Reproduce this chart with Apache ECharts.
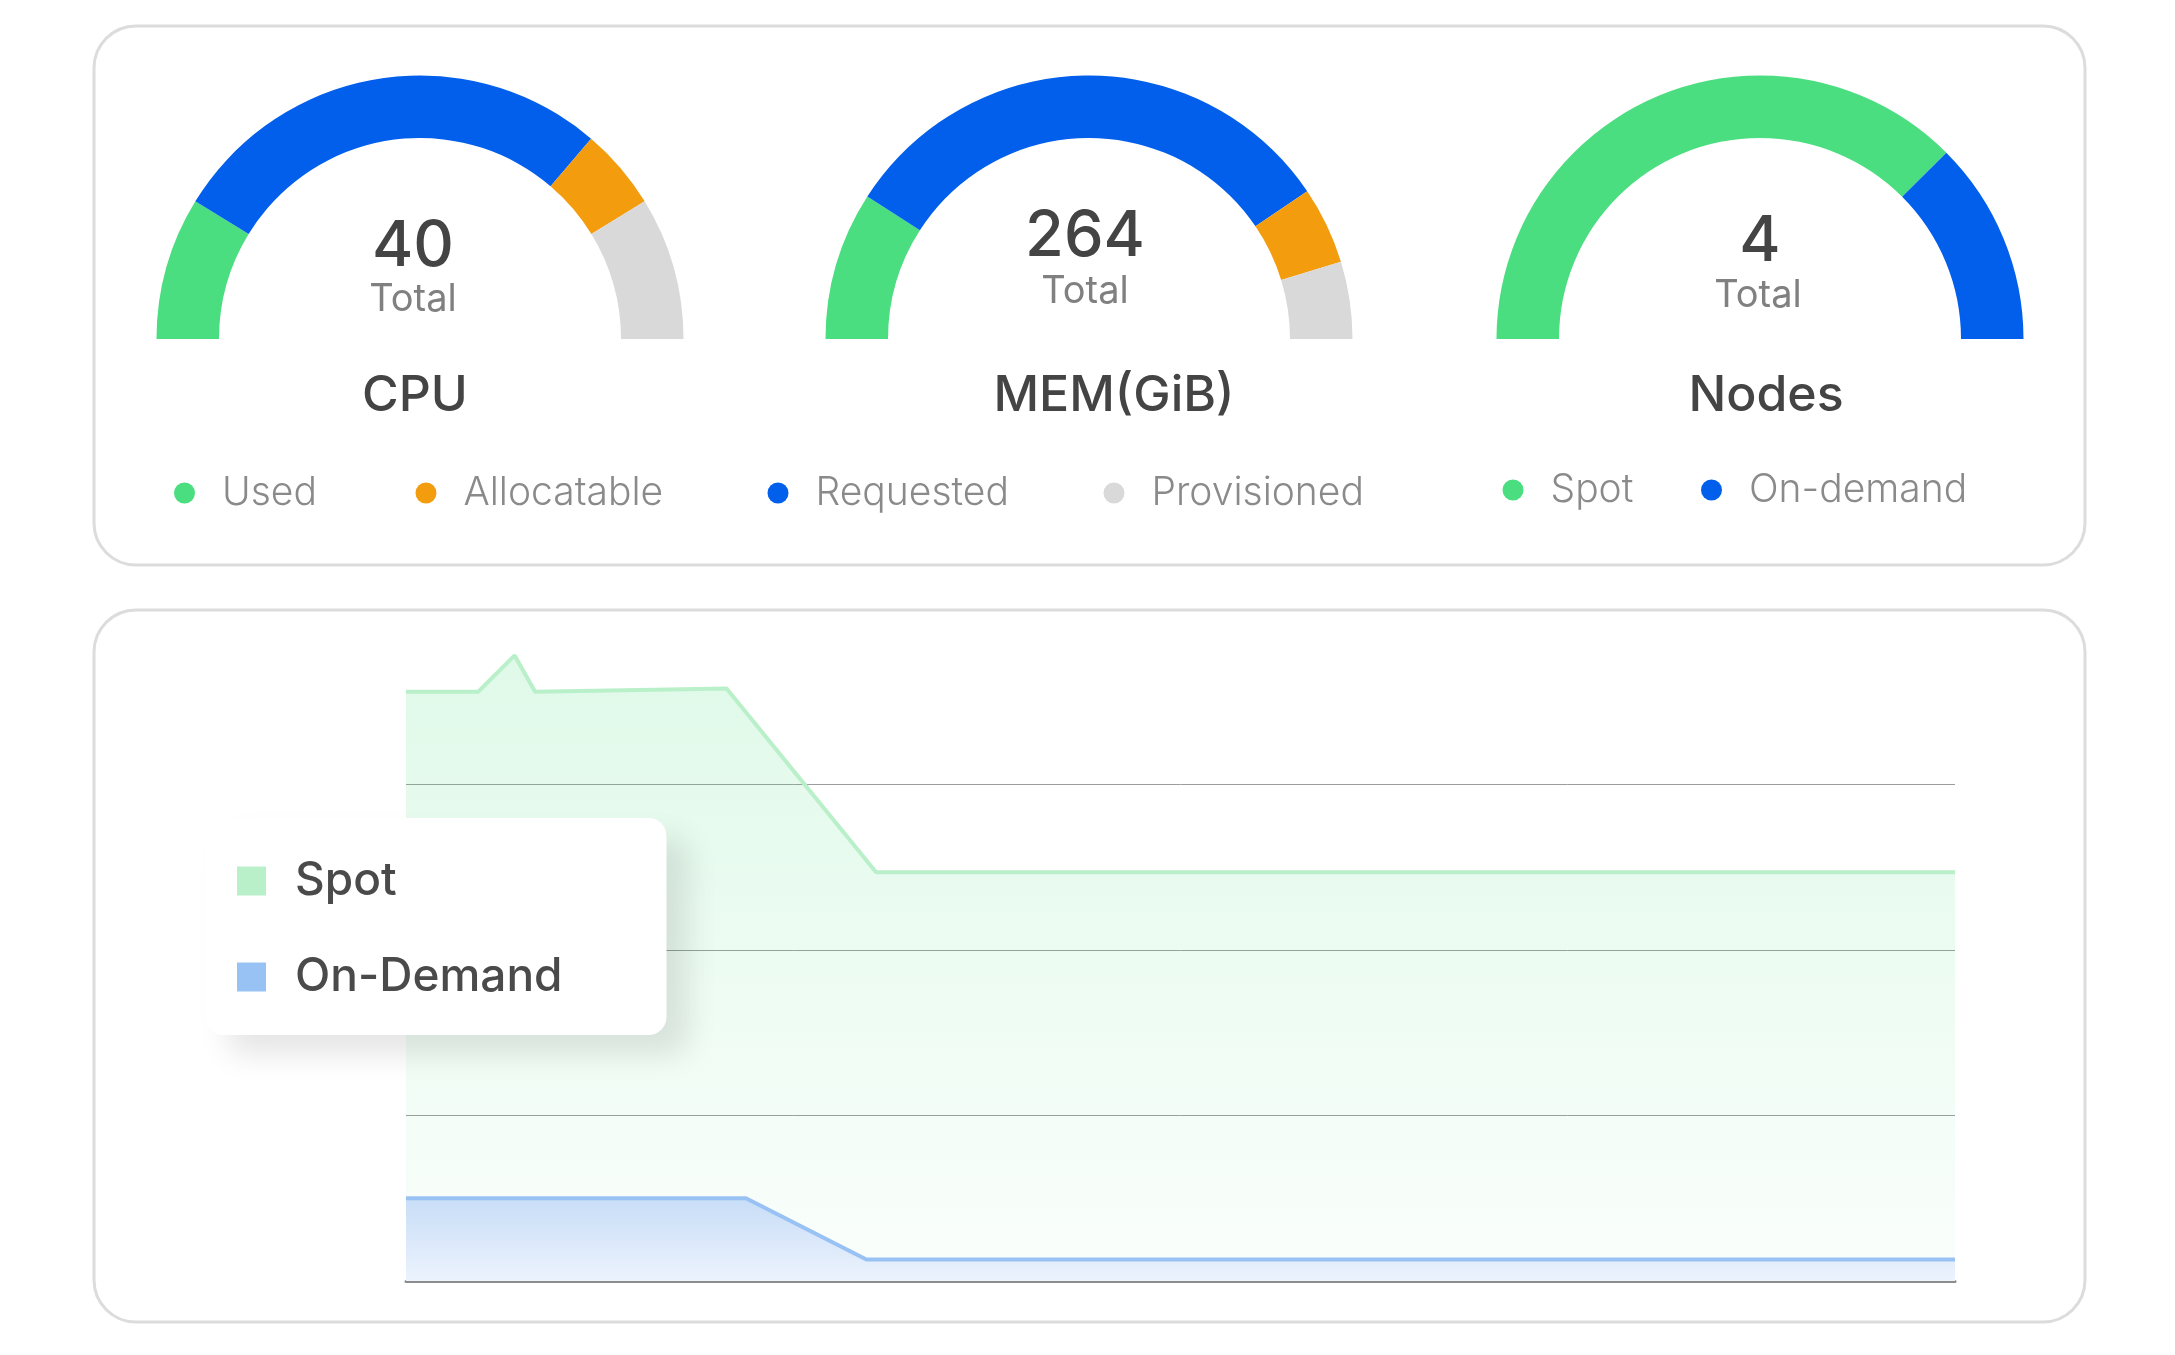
<!DOCTYPE html>
<html>
<head>
<meta charset="utf-8">
<style>
html,body{margin:0;padding:0;background:#fff;}
#chart{width:2175px;height:1355px;}
</style>
<script src="https://cdn.jsdelivr.net/npm/echarts@6/dist/echarts.min.js"></script>
</head>
<body>
<div id="chart"></div>
<script>
// ---- data ----
const cpuNames = ['Used', 'Requested', 'Allocatable', 'Provisioned'];
const cpuValues = [7, 22, 4, 7];
const memNames = ['Used', 'Requested', 'Allocatable', 'Provisioned'];
const memValues = [48, 166, 25, 25];
const nodeNames = ['Spot', 'On-demand'];
const nodeValues = [3, 1];
const gaugeTitles = ['CPU', 'MEM(GiB)', 'Nodes'];
const gaugeTotals = ['40', '264', '4'];
const topLegendNames = ['Used', 'Allocatable', 'Requested', 'Provisioned', 'Spot', 'On-demand'];

const timeSpot = [0, 67, 101, 120, 298, 437, 1440];
const valuesSpot = [35.6, 35.6, 37.8, 35.6, 35.8, 24.7, 24.7];
const timeOnDemand = [0, 316, 428, 1440];
const valuesOnDemand = [5.0, 5.0, 1.3, 1.3];
const lineSeriesNames = ['Spot', 'On-Demand'];

// ---- styles ----
const FONT = 'Inter, "Noto Sans", sans-serif';
const colorMap = {
  'Used': '#4ADE80', 'Requested': '#015FEC', 'Allocatable': '#F39C0E', 'Provisioned': '#D9D9D9',
  'Spot': '#4ADE80', 'On-demand': '#015FEC'
};
const pieCenters = [[420, 339], [1089, 339], [1760, 339]];
const R = [201, 263.5];

function pieSeries(names, values, center) {
  return {
    type: 'pie',
    center: center,
    radius: R,
    startAngle: 180,
    endAngle: 0,
    clockwise: true,
    silent: true,
    avoidLabelOverlap: false,
    label: {show: false},
    labelLine: {show: false},
    emphasis: {disabled: true},
    itemStyle: {borderWidth: 0},
    data: names.map((n, i) => ({name: n, value: values[i], itemStyle: {color: colorMap[n]}}))
  };
}

const dotLefts = [174, 415.5, 767.5, 1103.5, 1502.5, 1701];
const dotTops = [482.5, 482.5, 482.5, 482.5, 479.5, 479.5];
const topLegends = topLegendNames.map((n, i) => ({
  left: dotLefts[i],
  top: dotTops[i] - 9.5,
  padding: 0,
  itemWidth: 21,
  itemHeight: 21,
  selectedMode: false,
  data: [{name: n, icon: 'circle', itemStyle: {color: colorMap[n]}}],
  textStyle: {fontFamily: FONT, fontSize: 39, fontWeight: 300, color: '#8a8a8a', padding: [0, 0, 0, 22], lineHeight: 40}
}));

const bottomLegend = {
  orient: 'vertical',
  left: 205,
  top: 818,
  padding: [38, 104, 33, 32],
  itemWidth: 29,
  itemHeight: 29,
  itemGap: 46,
  selectedMode: false,
  backgroundColor: '#ffffff',
  borderRadius: 18,
  shadowColor: 'rgba(0,0,0,0.10)',
  shadowBlur: 30,
  shadowOffsetX: 22,
  shadowOffsetY: 20,
  data: [
    {name: lineSeriesNames[0], icon: 'rect', itemStyle: {color: '#B9F0C9'}},
    {name: lineSeriesNames[1], icon: 'rect', itemStyle: {color: '#99C2F4'}}
  ],
  textStyle: {fontFamily: FONT, fontSize: 46, fontWeight: 500, color: '#4a4a4a', padding: [0, 0, 0, 24], lineHeight: 50}
};

const textPos = [
  {num: [413, 247], total: [413, 300], title: [415, 396]},
  {num: [1085, 237], total: [1085, 292], title: [1114, 396]},
  {num: [1760, 242], total: [1758, 296], title: [1766, 396]}
];
const texts = [];
textPos.forEach((p, i) => {
  texts.push({type: 'text', x: p.num[0], y: p.num[1],
    style: {text: gaugeTotals[i], fontFamily: FONT, fontSize: 63, fontWeight: 500, fill: '#444444', align: 'center', verticalAlign: 'middle'}});
  texts.push({type: 'text', x: p.total[0], y: p.total[1],
    style: {text: 'Total', fontFamily: FONT, fontSize: 38, fontWeight: 400, fill: '#808080', align: 'center', verticalAlign: 'middle'}});
  texts.push({type: 'text', x: p.title[0], y: p.title[1],
    style: {text: gaugeTitles[i], fontFamily: FONT, fontSize: 50, fontWeight: 500, fill: '#444444', align: 'center', verticalAlign: 'middle'}});
});

const chart = echarts.init(document.getElementById('chart'), null, {renderer: 'canvas'});
chart.setOption({
  backgroundColor: '#ffffff',
  animation: false,
  graphic: [
    {type: 'rect', shape: {x: 94, y: 26, width: 1991, height: 539, r: 42},
      style: {fill: '#ffffff', stroke: '#dcdcdc', lineWidth: 3}},
    {type: 'rect', shape: {x: 94, y: 610, width: 1991, height: 712, r: 42},
      style: {fill: '#ffffff', stroke: '#dcdcdc', lineWidth: 3}}
  ].concat(texts),
  legend: topLegends.concat([bottomLegend]),
  grid: {left: 406, right: 220, top: 619, bottom: 74, containLabel: false},
  xAxis: {
    type: 'value', min: 0, max: 1440,
    axisLine: {show: true, lineStyle: {color: '#8c8c8c', width: 3}},
    axisTick: {show: false}, axisLabel: {show: false}, splitLine: {show: false}
  },
  yAxis: {
    type: 'value', min: 0, max: 40, interval: 10,
    axisLine: {show: false}, axisTick: {show: false}, axisLabel: {show: false},
    splitLine: {show: true, showMaxLine: false, lineStyle: {color: '#9c9c9c', width: 1}}
  },
  series: [
    pieSeries(cpuNames, cpuValues, pieCenters[0]),
    pieSeries(memNames, memValues, pieCenters[1]),
    pieSeries(nodeNames, nodeValues, pieCenters[2]),
    {
      name: lineSeriesNames[0], type: 'line', showSymbol: false, silent: true,
      color: '#B9F0C9',
      lineStyle: {color: '#B9F0C9', width: 4},
      areaStyle: {color: new echarts.graphic.LinearGradient(0, 0, 0, 1, [
        {offset: 0, color: 'rgba(74,222,128,0.25)'},
        {offset: 1, color: 'rgba(74,222,128,0.035)'}
      ])},
      data: timeSpot.map((t, i) => [t, valuesSpot[i]])
    },
    {
      name: lineSeriesNames[1], type: 'line', showSymbol: false, silent: true,
      color: '#99C2F4',
      lineStyle: {color: '#99C2F4', width: 4},
      areaStyle: {opacity: 1, color: new echarts.graphic.LinearGradient(0, 0, 0, 1, [
        {offset: 0, color: '#C8DDF7'},
        {offset: 1, color: '#ECF3FD'}
      ])},
      data: timeOnDemand.map((t, i) => [t, valuesOnDemand[i]])
    }
  ]
});
</script>
</body>
</html>
